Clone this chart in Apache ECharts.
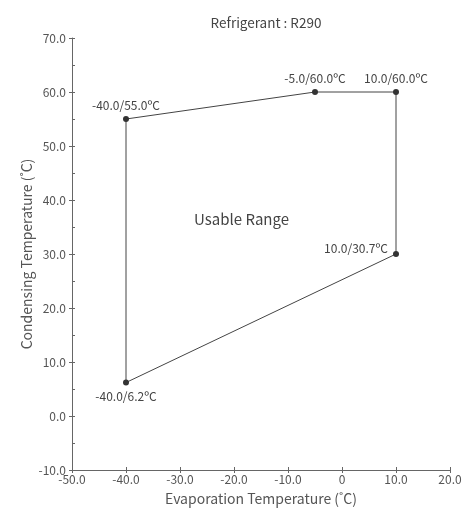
<!DOCTYPE html>
<html><head><meta charset="utf-8">
<script src="https://cdn.jsdelivr.net/npm/echarts@6/dist/echarts.min.js"></script>
<style>html,body{margin:0;padding:0;background:#fff}#c{width:465px;height:517px}</style>
</head><body><div id="c"></div>
<script>
const evapTemps = [-40, -5, 10, 10, -40, -40];
const condTemps = [55, 60, 60, 30, 6.2, 55];
const pointLabels = ['-40.0/55.0ºC', '-5.0/60.0ºC', '10.0/60.0ºC', '10.0/30.7ºC', '-40.0/6.2ºC'];
const labelPos = ['top', 'top', 'top', 'left', 'bottom'];
const xTicks = {min: -50, max: 20, interval: 10};
const yTicks = {min: -10, max: 70, interval: 10};

const FONT = '"Noto Sans CJK SC","Noto Sans",sans-serif';
const AX = '#666';

const data = evapTemps.map((x, i) => {
  const d = {value: [x, condTemps[i]]};
  if (i < pointLabels.length) {
    d.label = {show: true, formatter: pointLabels[i], position: labelPos[i], distance: 5};
    if (labelPos[i] === 'left') d.label.offset = [0, -6];
  } else {
    d.symbolSize = 0;
  }
  return d;
});

const chart = echarts.init(document.getElementById('c'));
chart.setOption({
  animation: false,
  textStyle: {fontFamily: FONT},
  title: {text: 'Refrigerant : R290', left: 261, textAlign: 'center', top: 11,
    textStyle: {fontSize: 13.5, fontWeight: 'normal', color: '#444', fontFamily: FONT}},
  grid: {left: 72, right: 15, top: 38, bottom: 47, containLabel: false},
  xAxis: [{
    type: 'value', min: xTicks.min, max: xTicks.max, interval: xTicks.interval,
    name: 'Evaporation Temperature (˚C)', nameLocation: 'middle', nameGap: 22,
    nameMoveOverlap: false,
    nameTextStyle: {fontSize: 14, color: '#555', fontFamily: FONT},
    axisLine: {show: true, onZero: false, lineStyle: {color: AX, width: 1}},
    axisTick: {show: true, length: 3, inside: false, lineStyle: {color: AX}},
    axisLabel: {fontSize: 12, color: '#555', margin: 3, fontFamily: FONT,
      formatter: v => v === 0 ? '0' : v.toFixed(1)},
    splitLine: {show: false}
  }, {
    type: 'value', min: xTicks.min, max: xTicks.max, interval: xTicks.interval,
    position: 'bottom',
    axisLine: {show: false, onZero: false},
    axisTick: {show: true, length: 3, inside: true, lineStyle: {color: AX}},
    axisLabel: {show: false}, splitLine: {show: false}
  }],
  yAxis: [{
    type: 'value', min: yTicks.min, max: yTicks.max, interval: yTicks.interval,
    name: 'Condensing Temperature (˚C)', nameLocation: 'middle', nameGap: 38,
    nameMoveOverlap: false,
    nameTextStyle: {fontSize: 14, color: '#555', fontFamily: FONT},
    axisLine: {show: true, onZero: false, lineStyle: {color: AX, width: 1}},
    axisTick: {show: true, length: 3, inside: false, lineStyle: {color: AX}},
    axisLabel: {fontSize: 12, color: '#555', margin: 6, fontFamily: FONT,
      formatter: v => v.toFixed(1)},
    splitLine: {show: false}
  }, {
    type: 'value', min: yTicks.min, max: yTicks.max, interval: yTicks.interval,
    position: 'left',
    axisLine: {show: false, onZero: false},
    axisTick: {show: true, length: 3, inside: true, lineStyle: {color: AX}},
    minorTick: {show: true, splitNumber: 2, length: 3, lineStyle: {color: AX}},
    axisLabel: {show: false}, splitLine: {show: false}
  }],
  graphic: [{
    type: 'text', left: 194, top: 212,
    style: {text: 'Usable Range', fontSize: 15, fill: '#444', fontFamily: FONT}
  }],
  series: [{
    type: 'line', xAxisIndex: 0, yAxisIndex: 0,
    data: data,
    symbol: 'circle', symbolSize: 6,
    itemStyle: {color: '#333'},
    lineStyle: {color: '#444', width: 1},
    label: {fontSize: 12, color: '#444', fontFamily: FONT},
    silent: true
  }]
});
</script></body></html>
